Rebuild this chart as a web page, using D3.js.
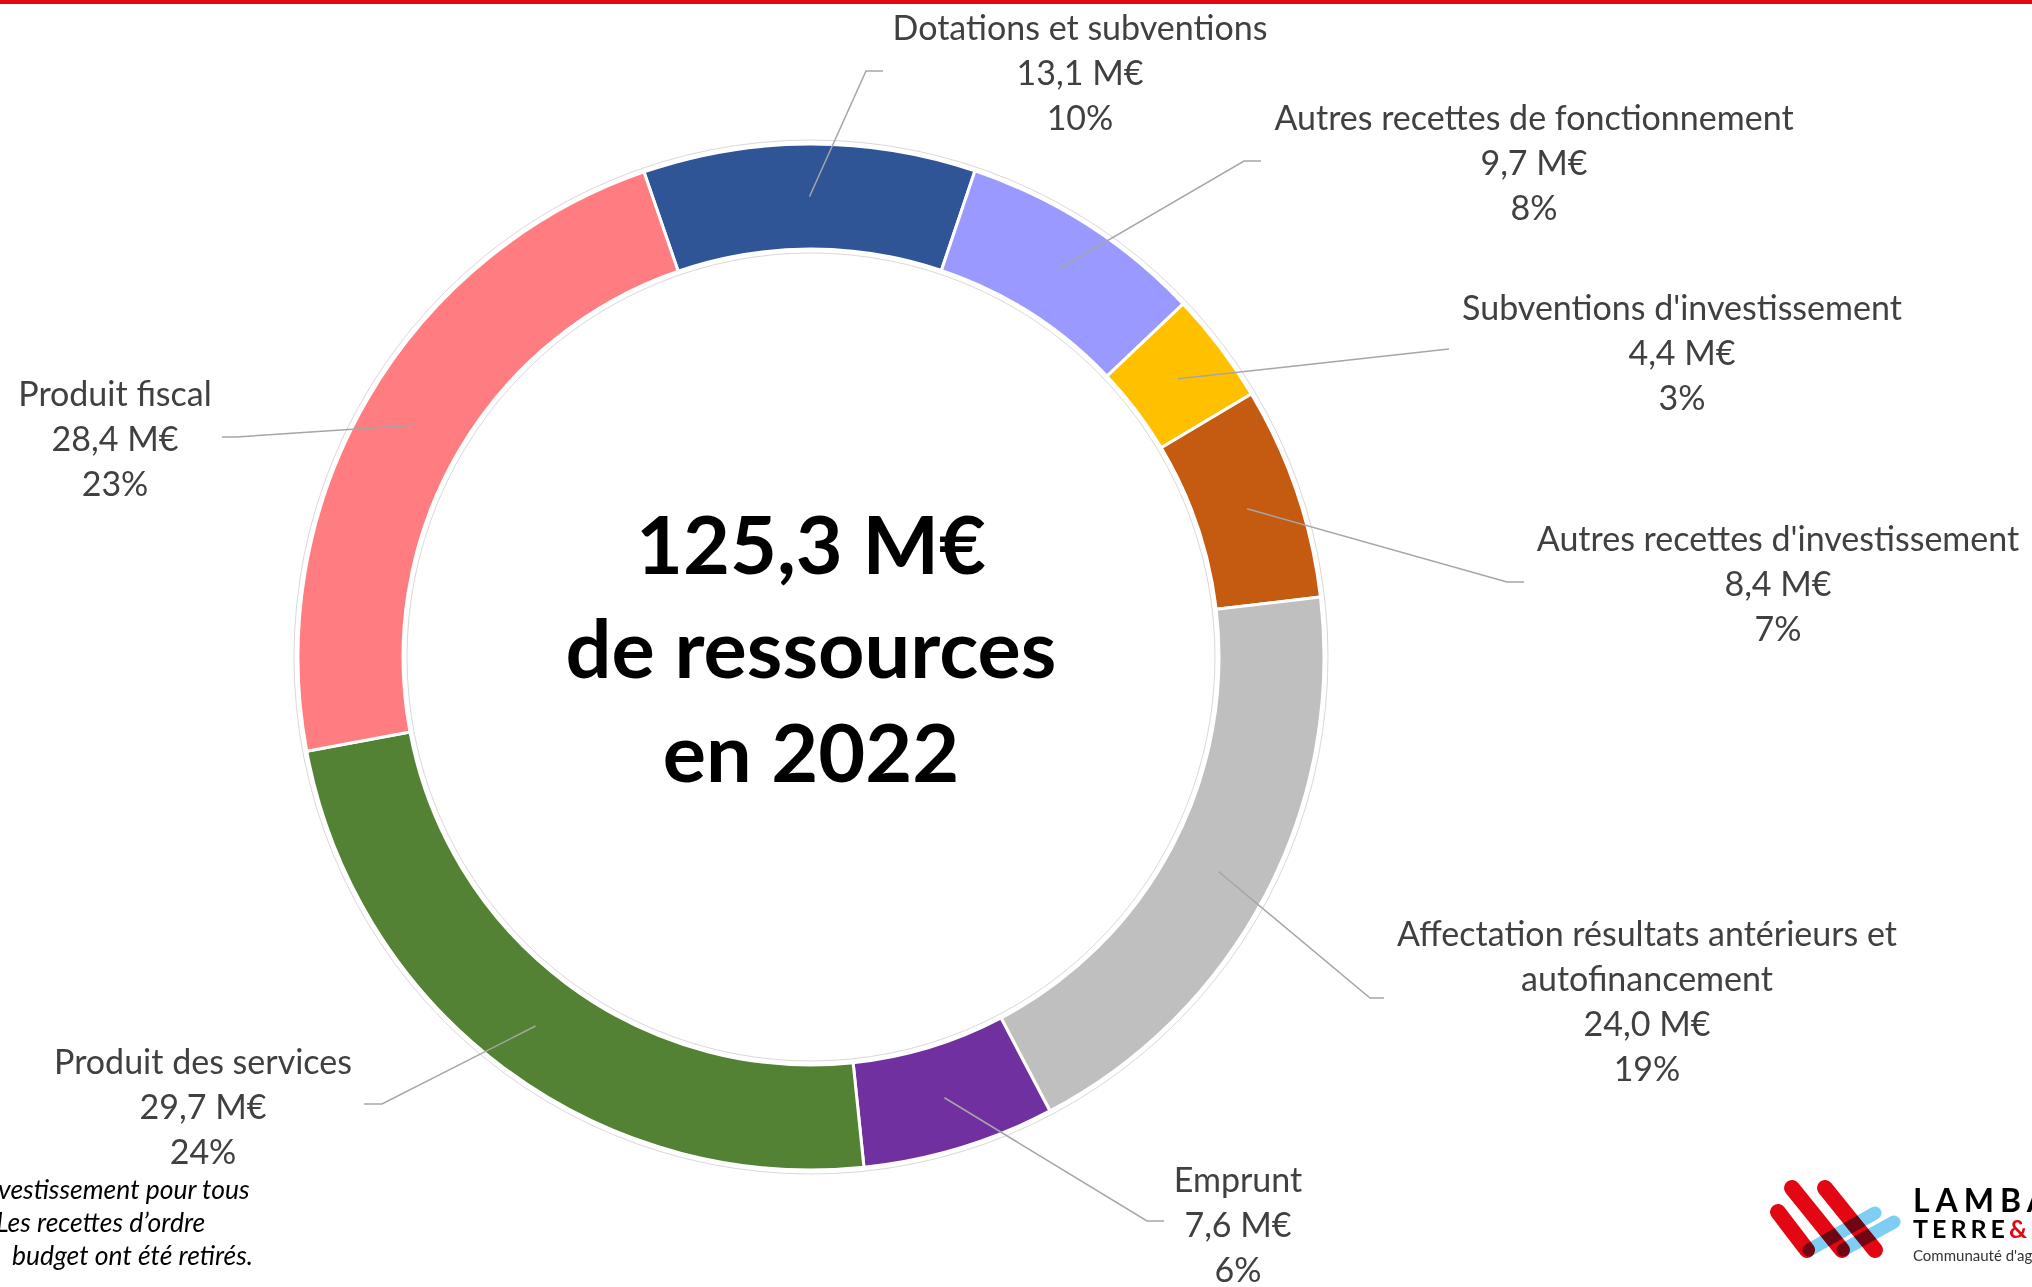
<!DOCTYPE html>
<html>
<head>
<meta charset="utf-8">
<script src="https://cdn.jsdelivr.net/npm/d3@7"></script>
<style>
  body { margin: 0; background: #fff; }
  svg { display: block; }
</style>
</head>
<body>
<div id="chart"></div>
<script>
var categories = [
  ["Dotations et subventions"],
  ["Autres recettes de fonctionnement"],
  ["Subventions d'investissement"],
  ["Autres recettes d'investissement"],
  ["Affectation résultats antérieurs et", "autofinancement"],
  ["Emprunt"],
  ["Produit des services"],
  ["Produit fiscal"]
];
var values = [13.1, 9.7, 4.4, 8.4, 24.0, 7.6, 29.7, 28.4];
var percents = ["10%", "8%", "3%", "7%", "19%", "6%", "24%", "23%"];
var colors = ["#2F5597", "#9999FF", "#FFC000", "#C55A11", "#BFBFBF", "#7030A0", "#548235", "#FF7C80"];
var centerLines = ["125,3 M€", "de ressources", "en 2022"];
var noteLines = ["vestissement pour tous", "Les recettes d\u2019ordre", "budget ont été retirés."];

var width = 2032, height = 1287;
var cx = 811, cy = 657;
var rOuter = 513, rInner = 408;
var firstSliceAngle = 341; // degrees, as in the spreadsheet

// label boxes: centre x / first baseline, and leader elbow + end (offsets from the chart centre)
var labelPos = [
  {x: 269, y: -617, ex: 55, ey: -586, tx: 72},
  {x: 723, y: -527, ex: 433, ey: -496, tx: 450},
  {x: 871, y: -337, ex: 638, ey: -308, tx: 638},
  {x: 967, y: -106, ex: 696, ey: -75, tx: 713},
  {x: 836, y: 289, ex: 559, ey: 341, tx: 573},
  {x: 427, y: 535, ex: 336, ey: 564, tx: 353},
  {x: -608, y: 417, ex: -429, ey: 447, tx: -447},
  {x: -696, y: -251, ex: -575, ey: -220, tx: -589}
];

var svg = d3.select("#chart")
  .append("svg")
  .attr("width", width)
  .attr("height", height);

// red rule along the top of the slide
svg.append("rect")
  .attr("x", 0).attr("y", 0)
  .attr("width", width).attr("height", 4)
  .style("fill", "#E30613");

var g = svg.append("g")
  .attr("transform", "translate(" + cx + "," + cy + ")");

var pie = d3.pie()
  .sort(null)
  .startAngle(firstSliceAngle * Math.PI / 180 - 2 * Math.PI)
  .endAngle(firstSliceAngle * Math.PI / 180);

var arc = d3.arc()
  .innerRadius(rInner)
  .outerRadius(rOuter);

var arcs = pie(values);

// faint outline round the ring
g.append("circle").attr("r", rOuter + 4)
  .style("fill", "none").style("stroke", "#d9d9d9").style("stroke-width", 1);
g.append("circle").attr("r", rInner - 4)
  .style("fill", "none").style("stroke", "#d9d9d9").style("stroke-width", 1);

g.selectAll("path.slice")
  .data(arcs)
  .enter()
  .append("path")
  .attr("class", "slice")
  .attr("d", arc)
  .style("fill", function(d, i) { return colors[i]; })
  .style("stroke", "white")
  .style("stroke-width", 3);

// leader lines
g.selectAll("polyline")
  .data(arcs)
  .enter()
  .append("polyline")
  .attr("points", function(d, i) {
    var c = arc.centroid(d);
    var p = labelPos[i];
    return [c, [p.ex, p.ey], [p.tx, p.ey]].map(function(q) { return q.join(","); }).join(" ");
  })
  .style("fill", "none")
  .style("stroke", "#A6A6A6")
  .style("stroke-width", 1.5);

var fmt = function(v) { return d3.format(".1f")(v).replace(".", ",") + " M€"; };

var lineH = 45;
var labels = g.selectAll("text.lbl")
  .data(arcs)
  .enter()
  .append("text")
  .attr("class", "lbl")
  .attr("text-anchor", "middle")
  .style("font-family", "Lato, 'Open Sans', sans-serif")
  .style("font-size", "34px")
  .style("fill", "#404040");

labels.each(function(d, i) {
  var lines = categories[i].concat([fmt(values[i]), percents[i]]);
  var p = labelPos[i];
  d3.select(this).selectAll("tspan")
    .data(lines)
    .enter()
    .append("tspan")
    .attr("x", p.x)
    .attr("y", function(l, j) { return p.y + j * lineH; })
    .text(function(l) { return l; });
});

// centre title
g.append("text")
  .attr("text-anchor", "middle")
  .style("font-family", "Lato, sans-serif")
  .style("font-weight", "bold")
  .style("font-size", "81px")
  .style("fill", "#000")
  .selectAll("tspan")
  .data(centerLines)
  .enter()
  .append("tspan")
  .attr("x", 0)
  .attr("y", function(d, i) { return -83 + i * 104; })
  .text(function(d) { return d; });

// footnote, cut by the left edge
svg.append("text")
  .style("font-family", "Lato, sans-serif")
  .style("font-style", "italic")
  .style("font-size", "26.5px")
  .style("fill", "#000")
  .selectAll("tspan")
  .data(noteLines)
  .enter()
  .append("tspan")
  .attr("x", function(d, i) { return [-2, -4, 12][i]; })
  .attr("y", function(d, i) { return 1199 + i * 33; })
  .text(function(d) { return d; });

// logo, bottom right
var logo = svg.append("g");
var redBars = [[[1778, 1212], [1807, 1250]], [[1792, 1188], [1842, 1250]], [[1825, 1188], [1875, 1250]]];
var blueBars = [[[1809, 1250], [1875, 1213]], [[1843, 1250], [1894, 1222]]];
logo.selectAll("line.red")
  .data(redBars)
  .enter().append("line")
  .attr("x1", function(d) { return d[0][0]; }).attr("y1", function(d) { return d[0][1]; })
  .attr("x2", function(d) { return d[1][0]; }).attr("y2", function(d) { return d[1][1]; })
  .style("stroke", "#E30613").style("stroke-width", 16).style("stroke-linecap", "round");
logo.selectAll("line.blue")
  .data(blueBars)
  .enter().append("line")
  .attr("x1", function(d) { return d[0][0]; }).attr("y1", function(d) { return d[0][1]; })
  .attr("x2", function(d) { return d[1][0]; }).attr("y2", function(d) { return d[1][1]; })
  .style("stroke", "#7ECEF4").style("stroke-width", 13).style("stroke-linecap", "round")
  .style("mix-blend-mode", "multiply");

logo.append("text")
  .attr("x", 1913).attr("y", 1212)
  .style("font-family", "Lato, sans-serif").style("font-weight", "bold")
  .style("font-size", "32px").style("letter-spacing", "6px")
  .style("fill", "#000")
  .text("LAMBALLE");
var t2 = logo.append("text")
  .attr("x", 1913).attr("y", 1238)
  .style("font-family", "Lato, sans-serif").style("font-weight", "bold")
  .style("font-size", "25px").style("letter-spacing", "4px")
  .style("fill", "#000");
t2.append("tspan").text("TERRE");
t2.append("tspan").style("fill", "#E30613").text("&");
logo.append("text")
  .attr("x", 1913).attr("y", 1261)
  .style("font-family", "Lato, sans-serif")
  .style("font-size", "15px")
  .style("fill", "#333")
  .text("Communauté d'agglomération");
</script>
</body>
</html>
